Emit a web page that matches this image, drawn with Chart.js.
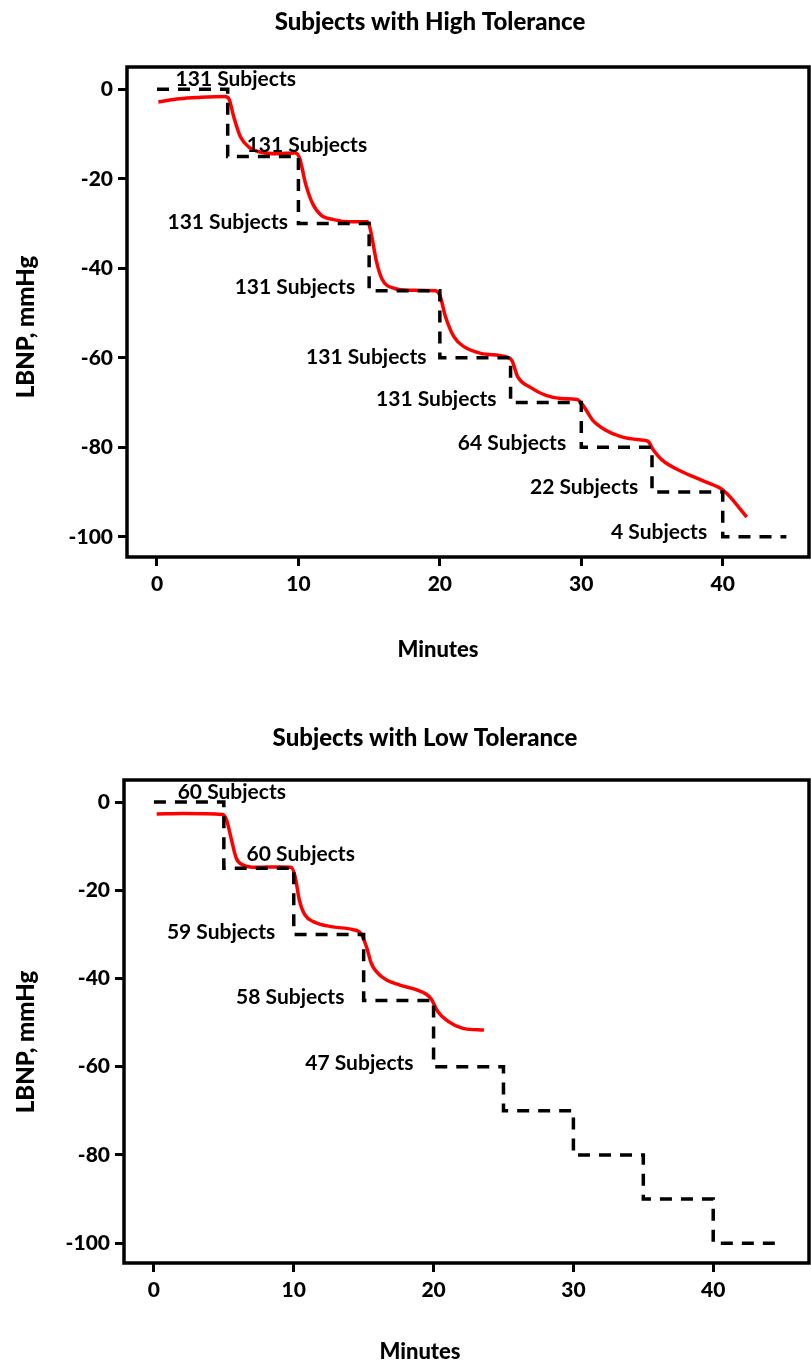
<!DOCTYPE html>
<html>
<head>
<meta charset="utf-8">
<script src="https://cdn.jsdelivr.net/npm/chart.js@4.4.1/dist/chart.umd.min.js"></script>
<style>
  html, body { margin: 0; padding: 0; background: #fff; }
  .box { position: relative; width: 811px; }
  #topBox { height: 682px; }
  #bottomBox { height: 683px; }
</style>
</head>
<body>
<div class="box" id="topBox"><canvas id="highChart"></canvas></div>
<div class="box" id="bottomBox"><canvas id="lowChart"></canvas></div>
<script>
// tick labels
const xTicks = [0, 10, 20, 30, 40]
const yTicks = [0, -20, -40, -60, -80, -100]

// LBNP protocol (dashed steps), minutes / mmHg
const stepMin = [0, 5, 5, 10, 10, 15, 15, 20, 20, 25, 25, 30, 30, 35, 35, 40, 40, 44.5]
const stepLbnp = [0, 0, -15, -15, -30, -30, -45, -45, -60, -60, -70, -70, -80, -80, -90, -90, -100, -100]

// high tolerance group, mean LBNP curve
const highMin = [0.1, 1.6, 3.0, 4.8, 5.1, 5.4, 5.9, 6.5, 7.3, 8.5, 9.8, 10.1, 10.5, 11.0, 11.6, 12.5, 13.7, 14.9, 15.1, 15.5,
  15.9, 16.8, 17.9, 19.7, 20.0, 20.4, 21.0, 21.7, 22.9, 24.7, 25.1, 25.5, 26.4, 27.5, 28.6, 29.7, 30.1, 30.8, 31.7, 32.8,
  34.1, 34.7, 35.1, 35.7, 37.1, 38.7, 40.0, 40.5, 41.7]
const highLbnp = [-2.8, -2.1, -1.8, -1.6, -2.2, -5.8, -10.6, -12.9, -14.0, -14.4, -14.2, -15.5, -21.0, -25.5, -28.1, -29.1, -29.6, -29.6, -31.5, -38.2,
  -42.3, -44.5, -44.9, -45.0, -46.0, -50.8, -55.3, -57.5, -59.0, -59.8, -60.6, -64.2, -66.6, -68.4, -69.1, -69.3, -70.5, -73.9, -76.1, -77.6,
  -78.3, -78.6, -80.6, -82.8, -85.4, -87.6, -89.5, -91.0, -95.6]

// low tolerance group, mean LBNP curve
const lowMin = [0.2, 2.1, 4.9, 5.2, 5.55, 5.9, 6.4, 7.3, 9.1, 9.8, 10.1, 10.4, 10.8, 11.4, 12.8, 14.2, 14.8, 15.2, 15.55, 16.3,
  17.6, 18.8, 19.8, 20.3, 20.9, 22.1, 23.6]
const lowLbnp = [-2.7, -2.6, -2.8, -4.1, -8.6, -12.8, -14.3, -14.8, -14.7, -14.8, -16.9, -22.2, -25.6, -27.1, -28.3, -28.9, -29.8, -32.8, -36.6, -39.6,
  -41.5, -42.6, -44.5, -47.5, -49.4, -51.3, -51.7]

// subject count labels (centre of text, in data units)
const highLabels = ['131 Subjects', '131 Subjects', '131 Subjects', '131 Subjects', '131 Subjects', '131 Subjects', '64 Subjects', '22 Subjects', '4 Subjects']
const highLabelMin = [5.57, 10.6, 5.0, 9.75, 14.8, 19.75, 25.1, 30.2, 35.5]
const highLabelLbnp = [2.2, -12.5, -29.7, -44.2, -59.8, -69.2, -79.0, -88.8, -98.9]

const lowLabels = ['60 Subjects', '60 Subjects', '59 Subjects', '58 Subjects', '47 Subjects']
const lowLabelMin = [5.57, 10.5, 4.8, 9.75, 14.7]
const lowLabelLbnp = [2.2, -11.8, -29.6, -44.3, -59.3]

const FONT = 'Lato'

const pairs = (xs, ys) => xs.map((x, i) => ({ x: x, y: ys[i] }))

// frame, subject labels and titles
const decor = {
  id: 'decor',
  afterDatasetsDraw(chart, args, opts) {
    const ctx = chart.ctx
    const a = chart.chartArea
    const xs = chart.scales.x, ys = chart.scales.y
    ctx.save()
    ctx.lineWidth = 3.5
    ctx.strokeStyle = '#000'
    ctx.strokeRect(a.left, a.top, a.right - a.left, a.bottom - a.top)

    ctx.fillStyle = '#000'
    ctx.textAlign = 'center'
    ctx.textBaseline = 'middle'
    ctx.font = 'bold 21px ' + FONT
    opts.labels.forEach((t, i) => {
      ctx.fillText(t, xs.getPixelForValue(opts.labelMin[i]), ys.getPixelForValue(opts.labelLbnp[i]))
    })

    ctx.font = '900 24px ' + FONT
    ctx.fillText(opts.title, opts.titleX, opts.titleY)
    ctx.font = '900 22px ' + FONT
    ctx.fillText('Minutes', opts.xTitleX, opts.xTitleY)
    ctx.font = '900 24px ' + FONT
    ctx.translate(opts.yTitleX, opts.yTitleY)
    ctx.rotate(-Math.PI / 2)
    ctx.fillText('LBNP, mmHg', 0, 0)
    ctx.restore()
  }
}

function makeChart(canvasId, curveMin, curveLbnp, texts, geo) {
  const tickFont = { family: FONT, weight: '900', size: 21 }
  const grid = { drawOnChartArea: false, drawTicks: true, tickLength: 9, lineWidth: 3, color: '#000' }
  return new Chart(document.getElementById(canvasId), {
    type: 'line',
    data: {
      datasets: [
        {
          data: pairs(stepMin, stepLbnp),
          borderColor: '#000',
          borderWidth: 3.5,
          borderDash: [12, 9],
          pointRadius: 0,
          tension: 0
        },
        {
          data: pairs(curveMin, curveLbnp),
          borderColor: '#ff0000',
          borderWidth: 3.5,
          pointRadius: 0,
          cubicInterpolationMode: 'monotone'
        }
      ]
    },
    options: {
      responsive: true,
      maintainAspectRatio: false,
      animation: false,
      layout: { padding: { top: geo.top, right: geo.right, left: 0, bottom: 0 } },
      plugins: {
        legend: { display: false },
        tooltip: { enabled: false },
        decor: texts
      },
      scales: {
        x: {
          type: 'linear',
          min: geo.xMin,
          max: geo.xMax,
          afterBuildTicks: s => { s.ticks = xTicks.map(v => ({ value: v })) },
          afterFit: s => { s.height = geo.xHeight },
          grid: grid,
          border: { display: false },
          ticks: { color: '#000', font: tickFont, padding: 6, maxRotation: 0 }
        },
        y: {
          type: 'linear',
          min: -104.5,
          max: 5,
          afterBuildTicks: s => { s.ticks = yTicks.map(v => ({ value: v })) },
          afterFit: s => { s.width = geo.yWidth },
          grid: grid,
          border: { display: false },
          ticks: { color: '#000', font: tickFont, padding: 5 }
        }
      }
    },
    plugins: [decor]
  })
}

makeChart('highChart', highMin, highLbnp, {
  labels: highLabels, labelMin: highLabelMin, labelLbnp: highLabelLbnp,
  title: 'Subjects with High Tolerance', titleX: 430, titleY: 22,
  xTitleX: 438, xTitleY: 650, yTitleX: 26, yTitleY: 327
}, { top: 67, right: 2, yWidth: 127, xHeight: 125, xMin: -2.12, xMax: 46.1 })

makeChart('lowChart', lowMin, lowLbnp, {
  labels: lowLabels, labelMin: lowLabelMin, labelLbnp: lowLabelLbnp,
  title: 'Subjects with Low Tolerance', titleX: 425, titleY: 56,
  xTitleX: 420, xTitleY: 670, yTitleX: 26, yTitleY: 360
}, { top: 98, right: 2, yWidth: 124, xHeight: 102, xMin: -2.14, xMax: 46.85 })
</script>
</body>
</html>
